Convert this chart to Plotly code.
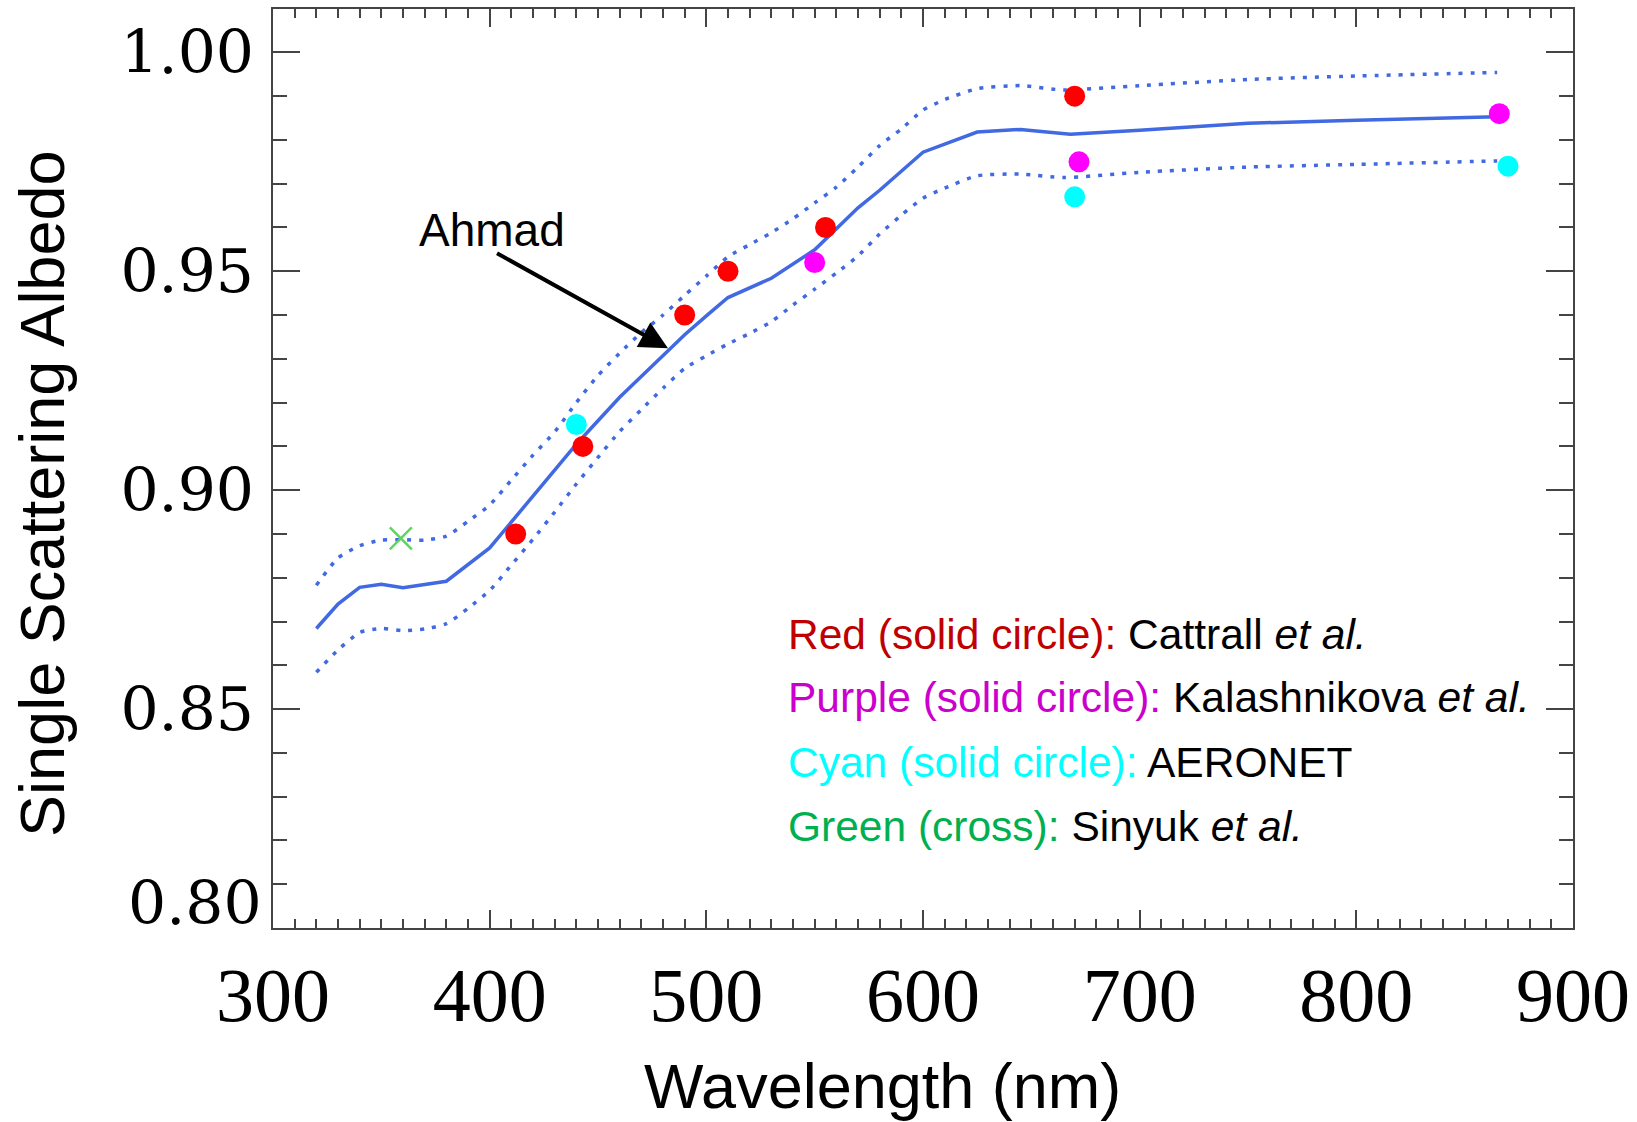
import plotly.graph_objects as go

# ---------------- data ----------------
wl_ahmad = [320, 330, 340, 350, 360, 370, 380, 400, 420, 440, 460, 480, 490, 500,
            510, 530, 550, 570, 580, 600, 625, 645, 668, 700, 750, 800, 865]
ssa_ahmad = [0.8684, 0.8740, 0.8778, 0.8785, 0.8777, 0.8784, 0.8792, 0.8868, 0.8988,
             0.9105, 0.9212, 0.9309, 0.9355, 0.9398, 0.9440, 0.9484, 0.9549, 0.9645,
             0.9685, 0.9772, 0.9818, 0.9824, 0.9813, 0.9822, 0.9838, 0.9845, 0.9853]

wl_bounds = [320, 330, 340, 350, 360, 370, 380, 390, 400, 410, 420, 430, 440, 450,
             460, 470, 480, 490, 500, 510, 520, 530, 540, 550, 560, 570, 580, 590,
             600, 610, 625, 645, 665, 700, 750, 800, 865]
ssa_upper = [0.8783, 0.8845, 0.8873, 0.8886, 0.8887, 0.8886, 0.8895, 0.8929, 0.8966,
             0.9023, 0.9080, 0.9133, 0.9200, 0.9262, 0.9313, 0.9360, 0.9400, 0.9445,
             0.9489, 0.9533, 0.9561, 0.9588, 0.9620, 0.9656, 0.9692, 0.9738, 0.9787,
             0.9825, 0.9868, 0.9892, 0.9917, 0.9924, 0.9914, 0.9924, 0.9938, 0.9946,
             0.9954]
ssa_lower = [0.8584, 0.8635, 0.8675, 0.8684, 0.8679, 0.8683, 0.8695, 0.8730, 0.8771,
             0.8829, 0.8888, 0.8950, 0.9014, 0.9075, 0.9134, 0.9184, 0.9233, 0.9278,
             0.9307, 0.9334, 0.9358, 0.9385, 0.9423, 0.9459, 0.9496, 0.9535, 0.9585,
             0.9628, 0.9667, 0.9690, 0.9718, 0.9722, 0.9714, 0.9726, 0.9738, 0.9744,
             0.9752]

wl_cattrall = [412, 443, 490, 510, 555, 670]
ssa_cattrall = [0.890, 0.910, 0.940, 0.950, 0.960, 0.990]

wl_kalash = [550, 672, 866]
ssa_kalash = [0.952, 0.975, 0.986]

wl_aeronet = [440, 670, 870]
ssa_aeronet = [0.915, 0.967, 0.974]

wl_sinyuk = [359]
ssa_sinyuk = [0.889]

x_ticks = [300, 400, 500, 600, 700, 800, 900]
y_ticks = [0.80, 0.85, 0.90, 0.95, 1.00]
y_ticktext = ["", "0.85", "0.90", "0.95", "1.00"]

# ---------------- figure ----------------
line_color = "#4169E1"
axis_color = "#444444"

fig = go.Figure()

fig.add_trace(go.Scatter(x=wl_bounds, y=ssa_upper, mode="lines",
                         line=dict(color=line_color, width=3.5, dash="4px,8px",
                                   shape="spline", smoothing=0.6),
                         showlegend=False, hoverinfo="skip"))
fig.add_trace(go.Scatter(x=wl_bounds, y=ssa_lower, mode="lines",
                         line=dict(color=line_color, width=3.5, dash="4px,8px",
                                   shape="spline", smoothing=0.6),
                         showlegend=False, hoverinfo="skip"))
fig.add_trace(go.Scatter(x=wl_ahmad, y=ssa_ahmad, mode="lines",
                         line=dict(color=line_color, width=3.5),
                         showlegend=False, name="Ahmad"))

fig.add_trace(go.Scatter(x=wl_cattrall, y=ssa_cattrall, mode="markers",
                         marker=dict(color="#FF0000", size=21, symbol="circle"),
                         showlegend=False, name="Cattrall et al."))
fig.add_trace(go.Scatter(x=wl_kalash, y=ssa_kalash, mode="markers",
                         marker=dict(color="#FF00FF", size=21, symbol="circle"),
                         showlegend=False, name="Kalashnikova et al."))
fig.add_trace(go.Scatter(x=wl_aeronet, y=ssa_aeronet, mode="markers",
                         marker=dict(color="#00FFFF", size=21, symbol="circle"),
                         showlegend=False, name="AERONET"))
fig.add_trace(go.Scatter(x=wl_sinyuk, y=ssa_sinyuk, mode="markers",
                         marker=dict(color="#5CD65C", size=22, symbol="x-thin",
                                     line=dict(color="#5CD65C", width=2.5)),
                         showlegend=False, name="Sinyuk et al."))

sans = "Liberation Sans, Arial, sans-serif"

annotations = [
    dict(text="Single Scattering Albedo", xref="paper", yref="paper",
         x=0, xshift=-231, y=0.4723, textangle=-90, showarrow=False,
         xanchor="center", yanchor="middle",
         font=dict(family=sans, size=63, color="black")),
    dict(text="Wavelength (nm)", xref="paper", yref="paper",
         x=0.469, y=-0.1716, showarrow=False, xanchor="center", yanchor="middle",
         font=dict(family=sans, size=63, color="black")),
    dict(text="0.80", xref="paper", yref="y", x=0, xshift=-9, y=0.80, yshift=25,
         showarrow=False, xanchor="right", yanchor="middle",
         font=dict(family="DejaVu Serif", size=60, color="black")),
    dict(text="Ahmad", xref="x", yref="y", x=401, y=0.9595, showarrow=False,
         xanchor="center", yanchor="middle",
         font=dict(family=sans, size=46, color="black")),
    dict(text="", xref="x", yref="y", x=482.3, y=0.9324, axref="x", ayref="y",
         ax=402.7, ay=0.9543, showarrow=True, arrowhead=2, arrowsize=1.4,
         arrowwidth=4, arrowcolor="black"),
]

legend_lines = [
    ("#C00000", "Red (solid circle): ", "Cattrall <i>et al.</i>", 0.3192),
    ("#CC00CC", "Purple (solid circle): ", "Kalashnikova <i>et al.</i>", 0.2508),
    ("#00FFFF", "Cyan (solid circle): ", "AERONET", 0.1802),
    ("#00B050", "Green (cross): ", "Sinyuk <i>et al.</i>", 0.1107),
]
for col, lab, src, ypos in legend_lines:
    annotations.append(dict(
        text=f"<span style='color:{col}'>{lab}</span>{src}",
        xref="paper", yref="paper", x=0.3946, y=ypos, showarrow=False,
        xanchor="left", yanchor="middle",
        font=dict(family=sans, size=42.5, color="black")))

fig.update_layout(
    width=1637, height=1122,
    margin=dict(l=273, r=64, t=7, b=194),
    paper_bgcolor="white", plot_bgcolor="white",
    annotations=annotations,
    xaxis=dict(range=[300, 900], tickmode="array", tickvals=x_ticks,
               ticks="inside", ticklen=18, tickwidth=1.5, tickcolor=axis_color,
               minor=dict(tick0=300, dtick=10, ticks="inside", ticklen=9,
                          tickwidth=1.5, tickcolor=axis_color),
               showline=True, linecolor=axis_color, linewidth=2, mirror="ticks",
               showgrid=False, zeroline=False, ticklabelstandoff=0,
               tickfont=dict(family="Liberation Serif", size=76, color="black")),
    yaxis=dict(range=[0.80, 1.0099], tickmode="array", tickvals=y_ticks,
               ticktext=y_ticktext,
               ticks="inside", ticklen=27, tickwidth=1.5, tickcolor=axis_color,
               minor=dict(tick0=0.80, dtick=0.01, ticks="inside", ticklen=14,
                          tickwidth=1.5, tickcolor=axis_color),
               showline=True, linecolor=axis_color, linewidth=2, mirror="ticks",
               showgrid=False, zeroline=False, ticklabelstandoff=5,
               tickfont=dict(family="DejaVu Serif", size=60, color="black")),
)

fig.write_html("out.html")
